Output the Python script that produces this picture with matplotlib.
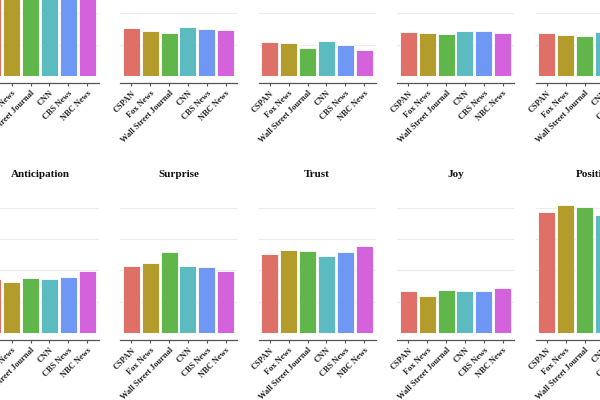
import matplotlib
matplotlib.use('Agg')
import matplotlib.pyplot as plt
import numpy as np

plt.rcParams['font.family'] = ['Liberation Serif', 'DejaVu Serif']

# News sources and bar colours
outlets = ['CSPAN', 'Fox News', 'Wall Street Journal', 'CNN', 'CBS News', 'NBC News']
colors = ['#df7068', '#b39c2c', '#60b64a', '#5bbbc0', '#6e98f4', '#d462dd']

# Share of words per emotion (proportions), top row then bottom row
top_titles = ['Negative', 'Fear', 'Disgust', 'Sadness', 'Anger']
top_values = [
    [0.155, 0.150, 0.148, 0.152, 0.156, 0.153],
    [0.076, 0.0715, 0.0685, 0.078, 0.0745, 0.073],
    [0.054, 0.0525, 0.044, 0.056, 0.0495, 0.041],
    [0.070, 0.068, 0.067, 0.0715, 0.0725, 0.069],
    [0.068, 0.066, 0.0645, 0.070, 0.069, 0.0675],
]
bottom_titles = ['Anticipation', 'Surprise', 'Trust', 'Joy', 'Positive']
bottom_values = [
    [0.0865, 0.082, 0.0875, 0.086, 0.0895, 0.0985],
    [0.107, 0.1125, 0.1295, 0.107, 0.106, 0.0985],
    [0.1255, 0.133, 0.131, 0.123, 0.130, 0.1395],
    [0.0675, 0.0585, 0.068, 0.0665, 0.0665, 0.0725],
    [0.194, 0.2045, 0.201, 0.1885, 0.196, 0.198],
]

fig = plt.figure(figsize=(6, 4), dpi=100)

W, H = 600.0, 400.0
lefts = [-18.5, 120, 258.5, 397, 535.5]
ax_w = 117
ymax = 0.22
ax_h = ymax / 0.05 * 31.3
rows = [(76, top_titles, top_values), (333, bottom_titles, bottom_values)]

x = np.arange(len(outlets))
for base, titles, values in rows:
    for left, title, vals in zip(lefts, titles, values):
        ax = fig.add_axes([left / W, (H - base) / H, ax_w / W, ax_h / H])
        ax.bar(x, vals, width=0.9, color=colors, edgecolor='white', linewidth=0.6, zorder=2)
        ax.set_xlim(-0.6, 5.6)
        ax.set_ylim(0, ymax)
        ax.set_yticks([0, 0.05, 0.10, 0.15, 0.20])
        ax.yaxis.grid(True, color='#ececec', linewidth=0.8, zorder=0)
        ax.tick_params(axis='y', length=0, labelleft=False)
        for s in ['top', 'right', 'left']:
            ax.spines[s].set_visible(False)
        ax.spines['bottom'].set_position(('outward', 5))
        ax.spines['bottom'].set_color('#555555')
        ax.spines['bottom'].set_linewidth(0.9)
        ax.set_xticks(x)
        ax.set_xticklabels(outlets, rotation=45, ha='right', rotation_mode='anchor',
                           fontsize=6, fontweight='bold', color='#222222')
        ax.tick_params(axis='x', length=2.5, width=0.8, color='#555555', pad=2)
        ax.set_title(title, fontsize=8, fontweight='bold', pad=13, color='#111111')

fig.savefig('out.png', dpi=100)
